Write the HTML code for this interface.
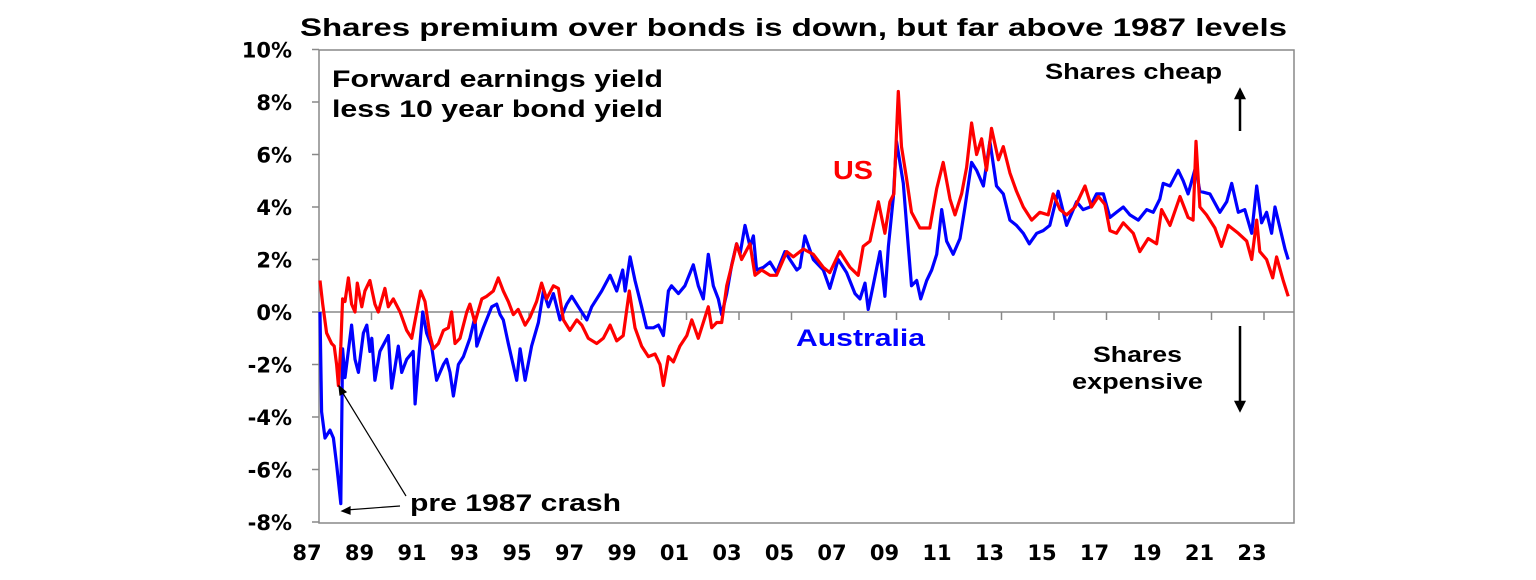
<!DOCTYPE html>
<html><head><meta charset="utf-8"><style>
body{margin:0;background:#fff;}
svg text{font-family:"Liberation Sans",Arial,sans-serif;font-weight:bold;}
svg text.tick{font-family:"DejaVu Sans","Liberation Sans",sans-serif;}
</style></head><body>
<svg width="1536" height="575" viewBox="0 0 1536 575">
<script>
const ausYears=[1987.04,1987.10,1987.23,1987.42,1987.55,1987.67,1987.83,1987.90,1987.99,1988.24,1988.37,1988.50,1988.69,1988.82,1988.94,1989.01,1989.13,1989.32,1989.64,1989.77,1990.02,1990.15,1990.34,1990.59,1990.66,1990.78,1990.95,1991.10,1991.29,1991.48,1991.74,1991.86,1991.99,1992.12,1992.31,1992.50,1992.75,1992.94,1993.01,1993.26,1993.58,1993.77,1993.90,1994.02,1994.21,1994.53,1994.66,1994.85,1995.10,1995.36,1995.55,1995.74,1995.93,1996.18,1996.44,1996.63,1996.88,1997.20,1997.39,1997.77,1998.09,1998.34,1998.57,1998.66,1998.85,1999.04,1999.29,1999.48,1999.74,1999.93,2000.12,2000.31,2000.43,2000.69,2000.94,2001.26,2001.45,2001.64,2001.83,2002.02,2002.21,2002.34,2002.53,2002.72,2002.91,2003.04,2003.23,2003.42,2003.55,2003.67,2003.93,2004.18,2004.43,2004.75,2004.94,2005.20,2005.32,2005.51,2005.83,2006.21,2006.46,2006.78,2007.10,2007.42,2007.61,2007.80,2007.92,2008.11,2008.37,2008.56,2008.69,2008.88,2009.00,2009.26,2009.45,2009.57,2009.77,2009.92,2010.15,2010.34,2010.53,2010.72,2010.91,2011.16,2011.42,2011.61,2011.86,2012.05,2012.31,2012.56,2012.81,2013.07,2013.32,2013.57,2013.83,2014.06,2014.34,2014.59,2014.84,2015.16,2015.48,2015.86,2016.11,2016.37,2016.62,2016.88,2017.13,2017.38,2017.64,2017.89,2018.21,2018.53,2018.78,2019.03,2019.16,2019.42,2019.73,2019.92,2020.11,2020.39,2020.56,2020.94,2021.32,2021.58,2021.77,2022.02,2022.27,2022.53,2022.72,2022.91,2023.10,2023.29,2023.42,2023.61,2023.80,2023.92];
const ausValues=[0,-3.8,-4.8,-4.5,-4.8,-5.8,-7.3,-1.4,-2.5,-0.5,-1.8,-2.3,-0.8,-0.5,-1.5,-1.0,-2.6,-1.5,-0.9,-2.9,-1.3,-2.3,-1.8,-1.5,-3.5,-2.0,0,-0.8,-1.3,-2.6,-2.0,-1.8,-2.3,-3.2,-2.0,-1.7,-1.0,-0.2,-1.3,-0.6,0.2,0.3,-0.1,-0.3,-1.2,-2.6,-1.4,-2.6,-1.3,-0.4,0.8,0.2,0.7,-0.3,0.3,0.6,0.2,-0.3,0.2,0.8,1.4,0.8,1.6,0.8,2.1,1.2,0.2,-0.6,-0.6,-0.5,-0.9,0.8,1.0,0.7,1.0,1.8,1.0,0.5,2.2,1.0,0.5,-0.1,0.7,1.8,2.6,2.2,3.3,2.5,2.9,1.6,1.7,1.9,1.5,2.3,2.0,1.6,1.7,2.9,2.0,1.6,0.9,2.0,1.5,0.7,0.5,1.1,0.1,1.0,2.3,0.6,2.5,4.4,6.5,4.9,2.5,1.0,1.2,0.5,1.2,1.6,2.2,3.9,2.7,2.2,2.8,4.0,5.7,5.4,4.8,6.5,4.8,4.5,3.5,3.3,3.0,2.6,3.0,3.1,3.3,4.6,3.3,4.2,3.9,4.0,4.5,4.5,3.6,3.8,4.0,3.7,3.5,3.9,3.8,4.3,4.9,4.8,5.4,5.0,4.5,5.5,4.6,4.5,3.8,4.2,4.9,3.8,3.9,3.0,4.8,3.4,3.8,3.0,4.0,3.2,2.4,2.0];
const usYears=[1987.04,1987.14,1987.29,1987.48,1987.58,1987.67,1987.74,1987.83,1987.90,1987.99,1988.12,1988.24,1988.37,1988.46,1988.63,1988.75,1988.94,1989.13,1989.26,1989.51,1989.64,1989.83,1990.09,1990.34,1990.53,1990.72,1990.87,1991.04,1991.23,1991.36,1991.55,1991.74,1991.93,1992.05,1992.18,1992.37,1992.63,1992.75,1992.94,1993.20,1993.39,1993.64,1993.83,1994.02,1994.21,1994.40,1994.59,1994.85,1995.04,1995.29,1995.48,1995.67,1995.93,1996.12,1996.31,1996.56,1996.82,1997.01,1997.26,1997.58,1997.83,1998.09,1998.34,1998.59,1998.82,1999.04,1999.29,1999.55,1999.80,1999.99,2000.12,2000.31,2000.50,2000.75,2001.01,2001.20,2001.45,2001.64,2001.83,2001.96,2002.15,2002.34,2002.53,2002.78,2002.91,2003.10,2003.42,2003.61,2003.86,2004.18,2004.43,2004.82,2005.07,2005.45,2005.83,2006.21,2006.46,2006.84,2007.23,2007.54,2007.73,2007.99,2008.31,2008.56,2008.75,2008.90,2009.07,2009.19,2009.38,2009.57,2009.89,2010.27,2010.53,2010.78,2011.04,2011.23,2011.48,2011.67,2011.86,2012.05,2012.24,2012.43,2012.62,2012.88,2013.07,2013.32,2013.57,2013.83,2014.15,2014.46,2014.78,2014.97,2015.23,2015.48,2015.80,2016.18,2016.43,2016.69,2016.94,2017.13,2017.38,2017.64,2018.02,2018.27,2018.59,2018.91,2019.10,2019.42,2019.80,2020.11,2020.30,2020.41,2020.56,2020.81,2021.13,2021.38,2021.64,2022.02,2022.34,2022.53,2022.72,2022.84,2023.10,2023.33,2023.48,2023.73,2023.92];
const usValues=[1.2,0.3,-0.8,-1.2,-1.3,-2.0,-2.8,-1.3,0.5,0.4,1.3,0.3,0.0,1.1,0.2,0.8,1.2,0.3,0.0,0.9,0.2,0.5,0.0,-0.7,-1.0,0.0,0.8,0.4,-0.9,-1.4,-1.2,-0.7,-0.6,0.0,-1.2,-1.0,0.0,0.3,-0.4,0.5,0.6,0.8,1.3,0.8,0.4,-0.1,0.1,-0.5,-0.2,0.4,1.1,0.5,1.0,0.9,-0.3,-0.7,-0.3,-0.5,-1.0,-1.2,-1.0,-0.5,-1.1,-0.9,0.8,-0.6,-1.3,-1.7,-1.6,-2.0,-2.8,-1.7,-1.9,-1.3,-0.9,-0.3,-1.0,-0.4,0.2,-0.6,-0.4,-0.4,1.0,2.0,2.6,2.0,2.6,1.4,1.6,1.4,1.4,2.3,2.1,2.4,2.2,1.7,1.5,2.3,1.7,1.4,2.5,2.7,4.2,3.0,4.2,4.5,8.4,6.3,5.1,3.8,3.2,3.2,4.7,5.7,4.3,3.7,4.5,5.5,7.2,6.0,6.6,5.4,7.0,5.8,6.3,5.3,4.6,4.0,3.5,3.8,3.7,4.5,3.9,3.7,4.0,4.8,4.0,4.4,4.1,3.1,3.0,3.4,3.0,2.3,2.8,2.6,3.9,3.3,4.4,3.6,3.5,6.5,4.0,3.7,3.2,2.5,3.3,3.0,2.7,2.0,3.5,2.3,2.0,1.3,2.1,1.2,0.6];
const yTicks=[10,8,6,4,2,0,-2,-4,-6,-8];
const xTickLabels=["87","89","91","93","95","97","99","01","03","05","07","09","11","13","15","17","19","21","23"];
</script>
<rect x="319" y="50" width="975" height="473" fill="#fff" stroke="#888" stroke-width="1.5"/>
<g id="axes"></g>
<g id="series"></g>
<text x="300" y="36" font-size="25" textLength="987" lengthAdjust="spacingAndGlyphs">Shares premium over bonds is down, but far above 1987 levels</text>
<text x="332" y="87" font-size="24" textLength="331" lengthAdjust="spacingAndGlyphs">Forward earnings yield</text>
<text x="332" y="117" font-size="24" textLength="331" lengthAdjust="spacingAndGlyphs">less 10 year bond yield</text>
<text x="833" y="179" font-size="26" fill="#ff0000" textLength="40" lengthAdjust="spacingAndGlyphs">US</text>
<text x="796" y="346" font-size="24" fill="#0000ff" textLength="129" lengthAdjust="spacingAndGlyphs">Australia</text>
<text x="1045" y="79" font-size="22" textLength="177" lengthAdjust="spacingAndGlyphs">Shares cheap</text>
<text x="1093" y="362" font-size="22" textLength="89" lengthAdjust="spacingAndGlyphs">Shares</text>
<text x="1072" y="389" font-size="22" textLength="131" lengthAdjust="spacingAndGlyphs">expensive</text>
<g stroke="#000" stroke-width="2.5">
<line x1="1240" y1="131" x2="1240" y2="96"/><polygon points="1236,98 1244,98 1240,90" fill="#000"/>
<line x1="1240" y1="326" x2="1240" y2="404"/><polygon points="1236,402 1244,402 1240,410" fill="#000"/>
</g>
<text x="410" y="511" font-size="24" textLength="211" lengthAdjust="spacingAndGlyphs">pre 1987 crash</text>
<g stroke="#000" stroke-width="1.2" fill="#000">
<line x1="400" y1="506" x2="346" y2="510"/><polygon points="342,511 350,507 350,514"/>
<line x1="406" y1="496" x2="341" y2="390"/><polygon points="339,386 346,392 340,395"/>
</g>
<script>
const X0=319,PXY=26.25,Y0=312;
function xs(t){return X0+(t-1987)*PXY;}
function ys(v){return Y0-v*PXY;}
const NS="http://www.w3.org/2000/svg";
const ax=document.getElementById('axes');
yTicks.forEach(v=>{
  const t=document.createElementNS(NS,'text');
  t.setAttribute('x',292);t.setAttribute('y',ys(v)+8);t.setAttribute('font-size','21');t.setAttribute('text-anchor','end');t.setAttribute('class','tick');
  t.textContent=v+'%';
  
  
  ax.appendChild(t);
  const l=document.createElementNS(NS,'line');
  l.setAttribute('x1',312);l.setAttribute('x2',319);l.setAttribute('y1',ys(v));l.setAttribute('y2',ys(v));l.setAttribute('stroke','#888');l.setAttribute('stroke-width','1.5');
  
  
  ax.appendChild(l);
});
const zl=document.createElementNS(NS,'line');
zl.setAttribute('x1',319);zl.setAttribute('x2',1294);zl.setAttribute('y1',ys(0));zl.setAttribute('y2',ys(0));zl.setAttribute('stroke','#888');zl.setAttribute('stroke-width','1.5');


ax.appendChild(zl);
xTickLabels.forEach((lab,i)=>{
  const yr=1987+2*i;
  const t=document.createElementNS(NS,'text');
  t.setAttribute('x',xs(yr)-12);t.setAttribute('y',560);t.setAttribute('font-size','21');t.setAttribute('text-anchor','middle');t.setAttribute('class','tick');
  t.textContent=lab;
  
  
  ax.appendChild(t);
  if(i>0){
  const l=document.createElementNS(NS,'line');
  l.setAttribute('x1',xs(yr));l.setAttribute('x2',xs(yr));l.setAttribute('y1',ys(0));l.setAttribute('y2',ys(0)+8);l.setAttribute('stroke','#888');l.setAttribute('stroke-width','1.5');
  
  
  ax.appendChild(l);}
});
const sg=document.getElementById('series');
function drawLine(yrs,vals,color,name){
  const p=document.createElementNS(NS,'polyline');
  p.setAttribute('points',yrs.map((t,i)=>xs(t).toFixed(1)+','+ys(vals[i]).toFixed(1)).join(' '));
  p.setAttribute('fill','none');p.setAttribute('stroke',color);p.setAttribute('stroke-width','3.2');p.setAttribute('stroke-linejoin','round');
  
  
  sg.appendChild(p);
}
drawLine(ausYears,ausValues,'#0000ff','australia-line');
drawLine(usYears,usValues,'#ff0000','us-line');
</script>
</svg>
</body></html>
